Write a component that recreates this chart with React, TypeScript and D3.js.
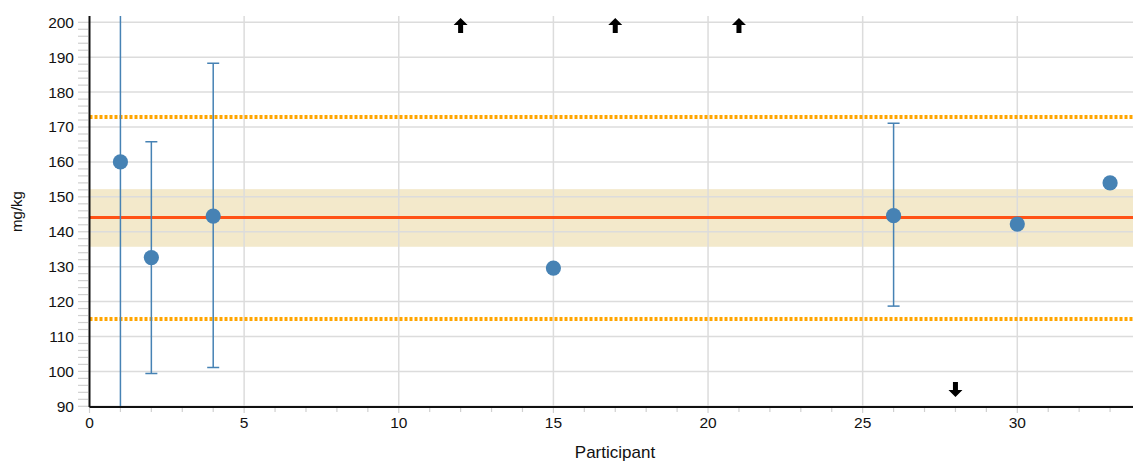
import React from "react";
import * as d3 from "d3";

const participants = [1, 2, 4, 15, 26, 30, 33];
const values = [160, 132.6, 144.5, 129.6, 144.6, 142.2, 154];
const errLow = [85, 99.4, 101.1, null, 118.7, null, null];
const errHigh = [205, 165.8, 188.3, null, 171.1, null, null];
const upArrowParticipants = [12, 17, 21];
const downArrowParticipants = [28];
const meanValue = 144.1;
const bandLow = 135.7;
const bandHigh = 152.2;
const limitLow = 115.0;
const limitHigh = 172.9;
const yMajorTicks = [90, 100, 110, 120, 130, 140, 150, 160, 170, 180, 190, 200];
const xMajorTicks = [0, 5, 10, 15, 20, 25, 30];

const W = 1133;
const H = 461;
const left = 89.5;
const right = 1133;
const top = 16;
const bottom = 407;
const font = "Liberation Sans, Arial, sans-serif";

export default function App() {
  const x = d3.scaleLinear().domain([0, 30]).range([left, 1017.3]);
  const y = d3.scaleLinear().domain([90, 200]).range([406.3, 22.3]);
  const yMinor = d3.range(90, 200.1, 2).filter((v) => v % 10 !== 0);
  const xMinor = d3.range(0, 34, 1).filter((v) => v % 5 !== 0);
  const grid = "#dcdcdc";
  const blue = "#4682b4";

  const upArrow = "M0,-8 L7,-1 L2.5,-1 L2.5,7 L-2.5,7 L-2.5,-1 L-7,-1 Z";
  const downArrow = "M0,8 L7,1 L2.5,1 L2.5,-7 L-2.5,-7 L-2.5,1 L-7,1 Z";

  return (
    <svg
      width={W}
      height={H}
      style={{ position: "absolute", left: 0, top: 0, display: "block" }}
      fontFamily={font}
    >
      <rect x={0} y={0} width={W} height={H} fill="#fff" />
      <defs>
        <clipPath id="plot">
          <rect x={left} y={top} width={right - left} height={bottom - top} />
        </clipPath>
      </defs>
      {/* band */}
      <rect
        x={left}
        y={y(bandHigh)}
        width={right - left}
        height={y(bandLow) - y(bandHigh)}
        fill="#f3e9cb"
      />
      {/* grid */}
      {yMajorTicks.map((t) => (
        <line key={"gy" + t} x1={left} x2={right} y1={y(t)} y2={y(t)} stroke={grid} strokeWidth={1.5} />
      ))}
      {xMajorTicks.filter((t) => t > 0).map((t) => (
        <line key={"gx" + t} x1={x(t)} x2={x(t)} y1={top} y2={bottom} stroke={grid} strokeWidth={1.5} />
      ))}
      {/* y ticks */}
      {yMinor.map((t) => (
        <line key={"ym" + t} x1={78} x2={88} y1={y(t)} y2={y(t)} stroke="#d0d0d0" strokeWidth={1.2} />
      ))}
      {yMajorTicks.map((t) => (
        <g key={"yt" + t}>
          <line x1={78} x2={left} y1={y(t)} y2={y(t)} stroke="#d0d0d0" strokeWidth={1.2} />
          <text x={74} y={y(t)} dy="0.35em" textAnchor="end" fontSize={15.5} fill="#111">
            {t}
          </text>
        </g>
      ))}
      {/* x ticks */}
      {xMinor.map((t) => (
        <line key={"xm" + t} x1={x(t)} x2={x(t)} y1={bottom} y2={bottom + 5} stroke="#d0d0d0" strokeWidth={1.2} />
      ))}
      {xMajorTicks.map((t) => (
        <g key={"xt" + t}>
          <line x1={x(t)} x2={x(t)} y1={bottom} y2={bottom + 6} stroke="#d0d0d0" strokeWidth={1.2} />
          <text x={x(t)} y={bottom + 21} textAnchor="middle" fontSize={15.5} fill="#111">
            {t}
          </text>
        </g>
      ))}
      {/* reference lines */}
      <g clipPath="url(#plot)">
        <line x1={left} x2={right} y1={y(meanValue)} y2={y(meanValue)} stroke="#ff5216" strokeWidth={3} />
        <line x1={left} x2={right} y1={y(limitHigh)} y2={y(limitHigh)} stroke="#ffa500" strokeWidth={4} strokeDasharray="3,2" />
        <line x1={left} x2={right} y1={y(limitLow)} y2={y(limitLow)} stroke="#ffa500" strokeWidth={4} strokeDasharray="3,2" />
        {/* error bars */}
        {participants.map((p, i) => {
          const lo = errLow[i];
          const hi = errHigh[i];
          if (lo == null || hi == null) return null;
          const cx = x(p);
          return (
            <g key={"e" + p} stroke={blue} strokeWidth={1.5}>
              <line x1={cx} x2={cx} y1={y(lo)} y2={y(hi)} />
              <line x1={cx - 6} x2={cx + 6} y1={y(lo)} y2={y(lo)} />
              <line x1={cx - 6} x2={cx + 6} y1={y(hi)} y2={y(hi)} />
            </g>
          );
        })}
      </g>
      {/* points */}
      {participants.map((p, i) => (
        <circle key={"c" + p} cx={x(p)} cy={y(values[i])} r={7.6} fill={blue} />
      ))}
      {/* arrows */}
      {upArrowParticipants.map((p) => (
        <path key={"u" + p} d={upArrow} transform={`translate(${x(p)},26)`} fill="#000" />
      ))}
      {downArrowParticipants.map((p) => (
        <path key={"d" + p} d={downArrow} transform={`translate(${x(p)},389)`} fill="#000" />
      ))}
      {/* axes */}
      <line x1={left} x2={left} y1={top} y2={bottom} stroke="#111" strokeWidth={2} />
      <line x1={left} x2={right} y1={bottom} y2={bottom} stroke="#111" strokeWidth={2} />
      {/* labels */}
      <text
        transform={`translate(22,${(top + bottom) / 2}) rotate(-90)`}
        textAnchor="middle"
        fontSize={15}
        fill="#111"
      >
        mg/kg
      </text>
      <text x={615} y={458} textAnchor="middle" fontSize={17} fill="#111">
        Participant
      </text>
    </svg>
  );
}
